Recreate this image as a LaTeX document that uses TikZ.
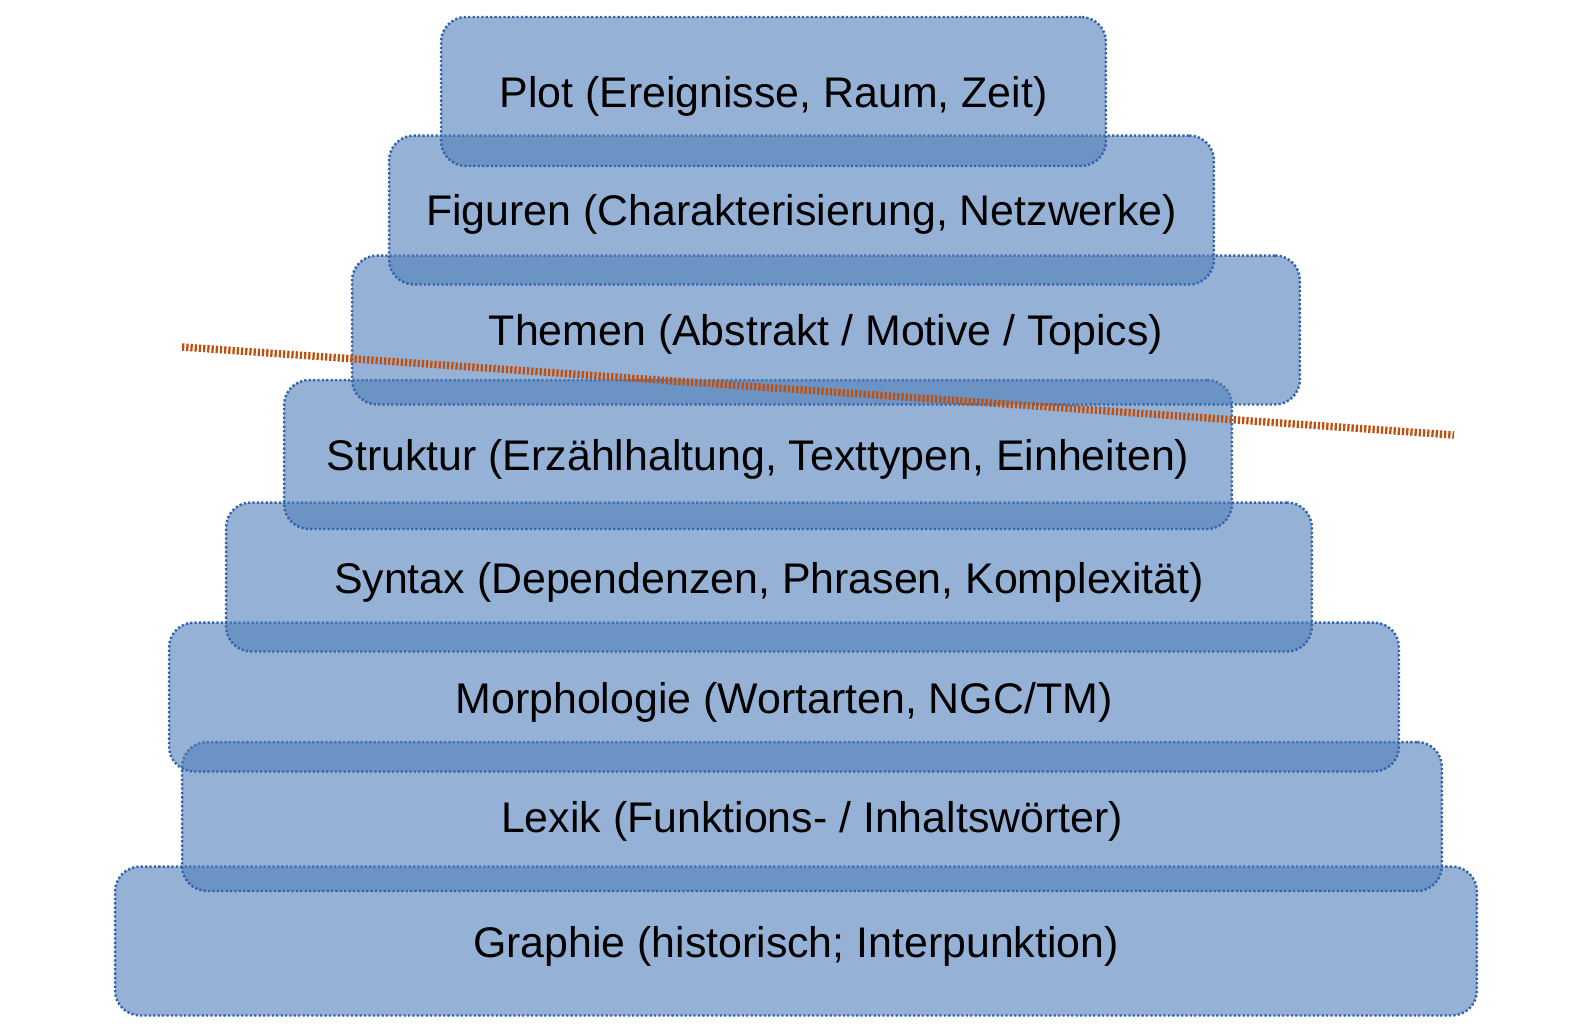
\documentclass[tikz,border=0pt]{standalone}
\usepackage{fontspec}
\setmainfont{Liberation Sans}
\usepackage{tikz}
\usetikzlibrary{positioning}
\definecolor{layerblue}{RGB}{79,127,186}
\definecolor{layerline}{RGB}{52,100,172}
\definecolor{cutorange}{RGB}{192,80,16}

\begin{document}
\begin{tikzpicture}[
  x=0.02cm, y=-0.02cm,
  layer/.style = {rectangle, rounded corners=0.5cm,
                  fill=layerblue, fill opacity=0.6, text opacity=1,
                  draw=layerline, draw opacity=1, line width=1.4pt,
                  dash pattern=on 1.3pt off 1.2pt,
                  minimum height=2.98cm, align=center, inner sep=0pt,
                  text height=18.2pt, text depth=0pt,
                  font=\fontsize{24.4}{29}\selectfont},
  cut/.style   = {draw=cutorange, line width=4.2pt,
                  dash pattern=on 1.3pt off 1.1pt},
]
\useasboundingbox (0,0) rectangle (1571,1025);

% Layers, bottom to top
\node[layer, minimum width=27.24cm] (graphie)  at (796,941)   {Graphie (historisch; Interpunktion)};
\node[layer, minimum width=25.20cm] (lexik)    at (812,816.5) {Lexik (Funktions- / Inhaltswörter)};
\node[layer, minimum width=24.60cm] (morph)    at (784,697)   {Morphologie (Wortarten, NGC/TM)};
\node[layer, minimum width=21.72cm] (syntax)   at (769,577)   {Syntax (Dependenzen, Phrasen, Komplexität)};
\node[layer, minimum width=18.96cm] (struktur) at (758,454.5) {Struktur (Erzählhaltung, Texttypen, Einheiten)};
\node[layer, minimum width=18.96cm] (themen)   at (826,330)   {Themen (Abstrakt / Motive / Topics)};
\node[layer, minimum width=16.50cm] (figuren)  at (801.5,210) {Figuren (Charakterisierung, Netzwerke)};
\node[layer, minimum width=13.30cm] (plot)     at (773.5,91.5){Plot (Ereignisse, Raum, Zeit)};

% Dividing line
\coordinate (cutL) at (182,347);
\coordinate (cutR) at (1454,435);
\draw[cut] (cutL) -- (cutR);
\end{tikzpicture}
\end{document}
